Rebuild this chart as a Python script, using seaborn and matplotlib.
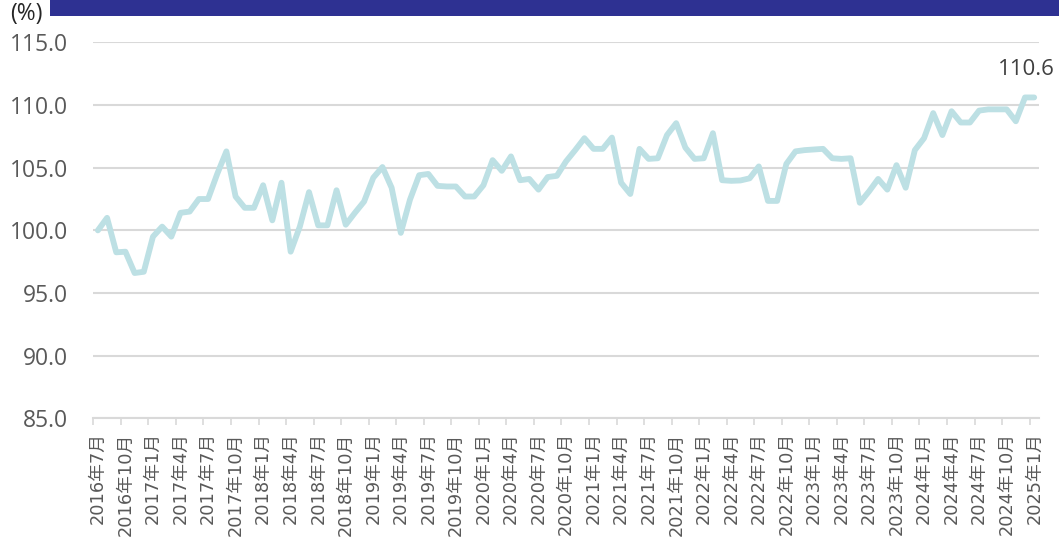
import matplotlib
matplotlib.use("Agg")
import matplotlib.pyplot as plt
from matplotlib.patches import Rectangle
from matplotlib.ticker import FixedLocator, FuncFormatter
import numpy as np
import pandas as pd
import seaborn as sns

# Monthly index, July 2016 - January 2025 (%)
start_month = "2016-07"
end_month = "2025-01"
index_values = [
    100.0, 101.0, 98.25, 98.3, 96.6, 96.7, 99.5, 100.3, 99.5, 101.4,
    101.5, 102.5, 102.5, 104.5, 106.3, 102.7, 101.8, 101.8, 103.6, 100.8,
    103.8, 98.3, 100.3, 103.05, 100.4, 100.4, 103.2, 100.45, 101.4, 102.3,
    104.2, 105.05, 103.4, 99.8, 102.45, 104.4, 104.5, 103.55, 103.5, 103.5,
    102.7, 102.7, 103.6, 105.6, 104.75, 105.9, 104.0, 104.1, 103.25, 104.25,
    104.35, 105.5, 106.4, 107.35, 106.5, 106.5, 107.4, 103.8, 102.9, 106.5,
    105.7, 105.75, 107.6, 108.55, 106.6, 105.7, 105.75, 107.75, 104.0, 103.95,
    103.98, 104.15, 105.1, 102.35, 102.35, 105.3, 106.3, 106.4, 106.45, 106.5,
    105.75, 105.7, 105.75, 102.2, 103.1, 104.1, 103.25, 105.2, 103.4, 106.4,
    107.35, 109.35, 107.6, 109.5, 108.6, 108.6, 109.55, 109.65, 109.65, 109.65,
    108.7, 110.6, 110.6,
]
y_ticks = [85.0, 90.0, 95.0, 100.0, 105.0, 110.0, 115.0]
label_step = 3
unit_text = "(%)"
last_label = "110.6"

months = pd.period_range(start_month, end_month, freq="M")
month_labels = [f"{p.year}年{p.month}月" for p in months]
df = pd.DataFrame({"pos": np.arange(len(months)), "value": index_values})

sns.set_theme(style="white")
plt.rcParams["font.family"] = ["Open Sans", "DejaVu Sans"]

fig = plt.figure(figsize=(10.59, 5.37), dpi=100)
ax = fig.add_axes([0.0881, 0.2207, 0.8928, 0.7006])

# Header band
fig.patches.append(Rectangle((50 / 1059, 1 - 16 / 537), 1.0, 16 / 537,
                             transform=fig.transFigure, facecolor="#2E3192",
                             edgecolor="none", zorder=5))

sns.lineplot(data=df, x="pos", y="value", ax=ax, color="#BDE0E4",
             linewidth=4.2, solid_joinstyle="round", solid_capstyle="round",
             zorder=3)

ax.set_xlim(-0.5, len(months) - 0.5)
ax.set_ylim(y_ticks[0], y_ticks[-1])
ax.set_xlabel("")
ax.set_ylabel("")

# Horizontal gridlines
ax.set_yticks(y_ticks)
ax.yaxis.set_major_formatter(FuncFormatter(lambda v, _: f"{v:.1f}"))
ax.yaxis.grid(True, color="#D9D9D9", linewidth=1.5, zorder=1)
ax.xaxis.grid(False)
ax.tick_params(axis="y", length=0, pad=18, labelsize=16.5, labelcolor="#595959")

# Category labels every third month, tick marks between categories
label_pos = list(range(0, len(months), label_step))
ax.xaxis.set_major_locator(FixedLocator(label_pos))
ax.set_xticklabels([month_labels[i] for i in label_pos], rotation=90,
                   family=["DejaVu Sans", "Noto Sans CJK JP"], fontsize=12.8,
                   color="#595959")
ax.tick_params(axis="x", which="major", length=0, pad=10)
boundaries = [p - 0.5 for p in range(0, len(months), label_step)]
ax.xaxis.set_minor_locator(FixedLocator(boundaries))
ax.tick_params(axis="x", which="minor", bottom=True, length=5, width=1.2,
               color="#D9D9D9", direction="out")

for side in ["top", "right", "left"]:
    ax.spines[side].set_visible(False)
ax.spines["bottom"].set_color("#D9D9D9")
ax.spines["bottom"].set_linewidth(1.5)

# Unit and end-point value
fig.text(10 / 1059, 1 - 14 / 537, unit_text, fontsize=16.5, color="#262626",
         va="center", ha="left")
ax.annotate(last_label, xy=(df["pos"].iloc[-1], index_values[-1]),
            xytext=(-5.4, 19.8), textcoords="offset points",
            ha="center", va="center", fontsize=16, color="#404040")

fig.savefig("out.png", dpi=100)
